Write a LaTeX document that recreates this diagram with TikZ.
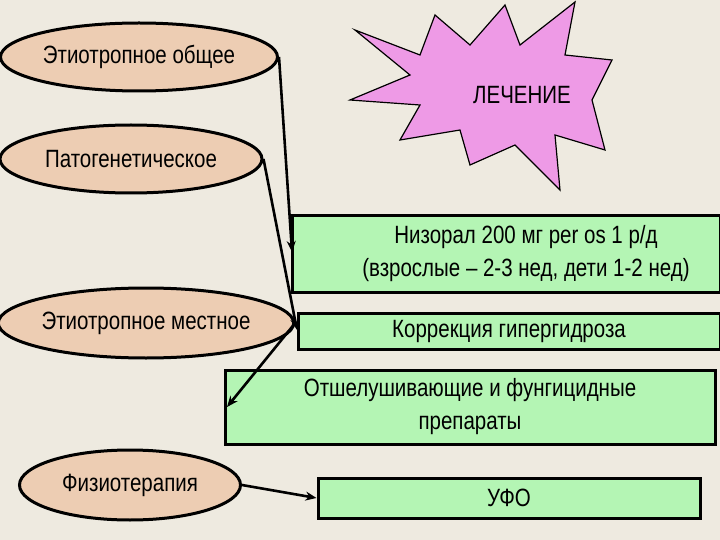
\documentclass[tikz,border=0pt]{standalone}
\usepackage{fontspec}
\setmainfont{Liberation Sans}[FakeStretch=0.82]
\usetikzlibrary{shapes.geometric,arrows.meta}
\definecolor{bg}{HTML}{EEEAE0}
\definecolor{ell}{HTML}{EDCDB3}
\definecolor{grn}{HTML}{B4F5B4}
\definecolor{pnk}{HTML}{EE9AE6}
\begin{document}
\begin{tikzpicture}[x=1pt,y=-1pt,
  ov/.style={ellipse,draw,line width=3pt,fill=ell,inner sep=0pt,font=\fontsize{25}{28}\selectfont},
  bx/.style={draw,line width=3pt,fill=grn,inner sep=0pt,font=\fontsize{25}{33}\selectfont,align=center},
  ar/.style={line width=2.6pt,-{Stealth[length=11pt,width=9pt]}}]
\fill[bg] (0,0) rectangle (720,540);
\useasboundingbox (0,0) rectangle (720,540);
% star
\fill[pnk,draw=black,line width=1.2pt] (355,30) -- (420,55) -- (435,15) -- (470,45) -- (505,5) -- (520,45) -- (575,2) -- (565,55) -- (612,60) -- (592,100) -- (605,150) -- (555,135) -- (560,190) -- (515,145) -- (470,165) -- (460,130) -- (400,140) -- (420,105) -- (350,100) -- (410,75) -- cycle;
\node[font=\fontsize{25}{28}\selectfont] (star) at (522,95) {ЛЕЧЕНИЕ};
\node[ov,minimum width=277pt,minimum height=68pt] (e1) at (139,57) {Этиотропное общее};
\node[ov,minimum width=262pt,minimum height=68pt] (e2) at (131,159) {Патогенетическое};
\node[ov,minimum width=283pt,minimum height=70pt] (e3) at (146,323) {Этиотропное местное};
\node[ov,minimum width=221pt,minimum height=70pt] (e4) at (130,485) {Физиотерапия};
\node[bx,minimum width=428pt,minimum height=76pt] (b1) at (506,254) {\hspace*{40pt}Низорал 200 мг per os 1 р/д\\\hspace*{40pt}(взрослые – 2-3 нед, дети 1-2 нед)};
\node[bx,minimum width=422pt,minimum height=36pt] (b2) at (509,331) {Коррекция гипергидроза};
\node[bx,minimum width=490pt,minimum height=74pt] (b3) at (470,407) {Отшелушивающие и фунгицидные\\препараты};
\node[bx,minimum width=382pt,minimum height=40pt] (b4) at (509,498) {УФО};
\coordinate (t1) at (292,252);
\coordinate (t2) at (297,330);
\coordinate (t3) at (227,407);
\draw[ar] (e1.east) -- (t1);
\draw[ar] (e2.east) -- (t2);
\draw[ar] (e3.east) -- (t3);
\draw[ar] (e4.east) -- (b4.west);
\end{tikzpicture}
\end{document}
